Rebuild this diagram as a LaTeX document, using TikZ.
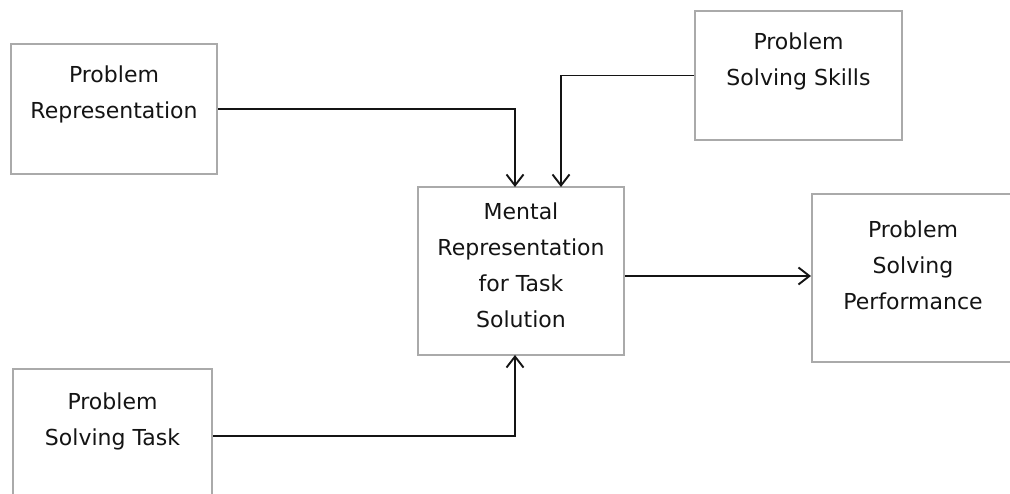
\documentclass[tikz,border=0pt]{standalone}
\usepackage{fontspec}
\setmainfont{DejaVu Sans}
\usetikzlibrary{arrows.meta}
\definecolor{boxgray}{RGB}{170,170,170}
\definecolor{ink}{RGB}{20,20,20}
\begin{document}
\begin{tikzpicture}[x=1pt,y=-1pt,
  box/.style={draw=boxgray,line width=2pt,fill=white,inner sep=0pt,minimum width=206pt},
  lbl/.style={anchor=north,inner sep=0pt,align=center,text=ink,font=\fontsize{22}{35.7}\selectfont},
  arr/.style={draw=ink,line width=1.9pt,-{Straight Barb[length=11pt,width=17pt,line width=1.9pt]}}]
\clip (0,0) rectangle (1010,494);
\useasboundingbox (0,0) rectangle (1010,494);
% boxes
\node[box,minimum height=130pt] (rep) at (114,109) {};
\node[box,minimum width=207pt,minimum height=129pt] (skl) at (798.5,75.5) {};
\node[box,minimum height=168pt] (men) at (521,271) {};
\node[box,minimum width=204pt,minimum height=168pt] (per) at (914,278) {};
\node[box,minimum width=199pt,minimum height=130pt] (tsk) at (112.5,434) {};
% labels
\node[lbl] (repT) at (114,66) {Problem\\Representation};
\node[lbl] (sklT) at (798.5,33) {Problem\\Solving Skills};
\node[lbl] (menT) at (521,203) {Mental\\Representation\\for Task\\Solution};
\node[lbl] (perT) at (913,221) {Problem\\Solving\\Performance};
\node[lbl] (tskT) at (112.5,393) {Problem\\Solving Task};
% connectors
\coordinate (inA) at (515,187);
\coordinate (inB) at (561,187);
\coordinate (inC) at (515,355);
\draw[arr] (rep.east) -| (inA);
\draw[arr] (skl.west) -| (inB);
\draw[arr] (tsk.east |- 0,436) -| (inC);
\draw[arr] (men.east |- 0,276) -- (per.west |- 0,276);
\end{tikzpicture}
\end{document}
